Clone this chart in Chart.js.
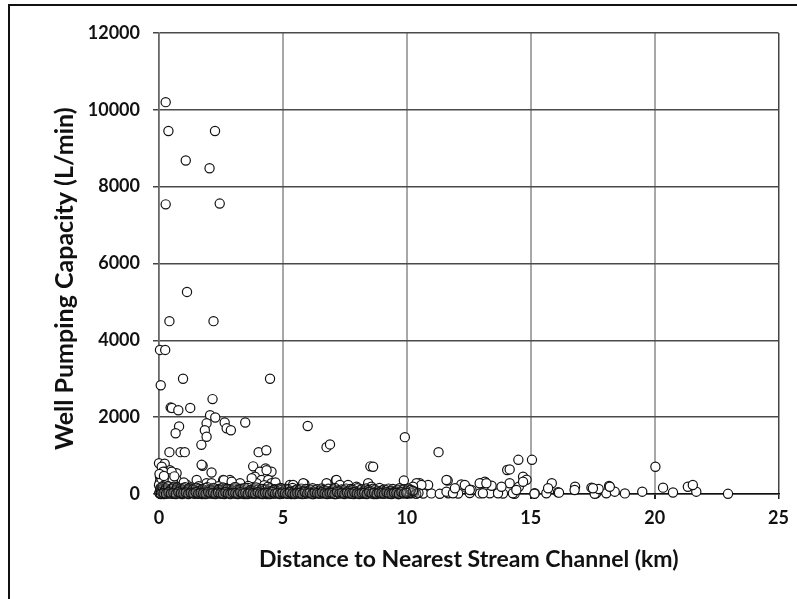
<!DOCTYPE html>
<html>
<head>
<meta charset="utf-8">
<script src="https://cdn.jsdelivr.net/npm/chart.js@4"></script>
<style>
  body { margin: 0; background: #fff; }
  #wrap { position: relative; width: 797px; height: 599px; overflow: hidden; }
  #frame { position: absolute; left: 8px; top: 4px; width: 900px; height: 700px; border: 2px solid #111; pointer-events: none; }
</style>
</head>
<body>
<div id="wrap">
  <canvas id="c" width="797" height="599"></canvas>
  <div id="frame"></div>
</div>
<script>
// wells with large pumping capacity [km, L/min]
var highWells = [
  [0.27,10200],[0.38,9450],[2.26,9450],[1.08,8680],[2.04,8480],[0.27,7540],[2.45,7560],[1.13,5260],
  [0.42,4500],[2.2,4500],[0.04,3750],[0.25,3750],[0.07,2830],[0.97,3000],[4.48,3000],
  [2.16,2470],[0.47,2250],[0.52,2240],[0.78,2180],[1.26,2240],[2.06,2050],[2.27,1990],
  [0.81,1760],[0.67,1580],[1.92,1840],[1.85,1660],[1.92,1490],[1.71,1280],[2.65,1860],[2.73,1710],[2.9,1660],[3.48,1860],
  [6.0,1770],[6.76,1220],[6.9,1290],[9.92,1480],[11.28,1090],[0.42,1090],[0.87,1090],[1.04,1090],[4.02,1090],[4.33,1140],
  [14.5,890],[15.05,890],[20.03,710],[8.53,720],[8.64,710]
];

// mid range wells
var midWells = [
  [0.0,800],[0.23,790],[0.11,710],[1.76,735],[1.72,760],[2.12,560],[3.8,720],[4.3,665],[4.54,580],[0.71,540],
  [0.44,620],[0.24,580],[0.17,580],[0.51,580],[0.04,450],[0.38,410],[0.71,365],[0.58,280],[0.04,320],[0.0,235],
  [4.07,580],[4.34,620],[3.87,450],[4.14,365],[4.41,365],[4.54,280],[3.94,280],[3.74,410],[5.28,235],[5.48,190],
  [1.52,365],[1.92,280],[2.12,280],[2.59,365],[2.86,365],[3.27,280],[2.62,355],[2.93,320],
  [9.88,350],[7.14,360],[6.8,260],[5.87,260],[11.65,350],[10.52,280],[10.86,235],[14.05,625],[14.15,640],[14.69,450],[14.83,370],
  [5.82,280],[6.76,280],[7.16,365],[7.3,235],[7.63,235],[7.97,190],[8.44,280],[8.57,190],[10.39,280],[10.59,235],[11.6,365],[5.41,235],
  [15.85,280],[15.7,150],[16.79,190],[17.45,165],[17.74,130],[18.16,210],[20.34,165],[21.34,190],[21.54,235],
  [14.52,190],[14.69,320],[14.15,280],[13.82,190],[13.42,215],[13.02,280],[13.15,320],[12.2,250],[12.41,165],[11.94,150],[10.25,190],
  [16.77,105],[17.51,150],[18.19,190],[12.34,235],[12.54,105],[12.94,280],[13.21,280],[14.42,105],
  [0.1,400],[0.02,520],[0.3,300],[0.15,200],[0.2,470],[0.06,160],[0.9,200],[1.1,250],[1.3,180],[0.55,350],
  [0.35,200],[1.6,200],[2.4,200],[3.1,180],[3.6,210],[4.9,160],[4.7,300],[4.25,230],[1.0,300],[0.62,460]
];

// sparse low wells past the dense band
var tailWells = [
  [10.12,20],[10.66,10],[10.99,15],[11.33,5],[11.67,20],[12.07,10],[12.54,25],[12.94,15],[13.35,20],[13.88,10],
  [14.35,5],[9.99,60],[12.61,105],[15.16,20],[15.63,20],[16.1,45],[16.14,35],[17.64,20],[18.05,20],[18.39,60],
  [18.8,15],[19.5,60],[20.74,40],[21.68,60],[22.96,5],[17.58,5],[15.15,5],[11.6,60],[11.86,20],[13.07,20],
  [13.68,20],[14.28,20]
];

// dense band near zero
var bandA = [
  [0.03,10],[0.12,40],[0.21,0],[0.3,55],[0.39,20],[0.48,35],[0.57,5],[0.66,60],[0.75,15],[0.84,45],
  [0.93,0],[1.02,30],[1.11,50],[1.2,10],[1.29,25],[1.38,40],[1.47,5],[1.56,55],[1.65,20],[1.74,0],
  [1.83,45],[1.92,15],[2.01,35],[2.1,60],[2.19,5],[2.28,25],[2.37,50],[2.46,10],[2.55,40],[2.64,0],
  [2.73,30],[2.82,55],[2.91,15],[3.0,45],[3.09,5],[3.18,35],[3.27,20],[3.36,60],[3.45,0],[3.54,25],
  [3.63,50],[3.72,10],[3.81,40],[3.9,15],[3.99,55],[4.08,5],[4.17,30],[4.26,45],[4.35,0],[4.44,20],
  [4.53,60],[4.62,10],[4.71,35],[4.8,50],[4.89,5],[4.98,25],[5.07,40],[5.16,15],[5.25,55],[5.34,0],
  [5.43,30],[5.52,45],[5.61,10],[5.7,20],[5.79,60],[5.88,5],[5.97,35],[6.06,50],[6.15,15],[6.24,0],
  [6.33,40],[6.42,25],[6.51,55],[6.6,10],[6.69,30],[6.78,45],[6.87,5],[6.96,20],[7.05,60],[7.14,0],
  [7.23,35],[7.32,15],[7.41,50],[7.5,25],[7.59,40],[7.68,10],[7.77,55],[7.86,0],[7.95,30],[8.04,45],
  [8.13,20],[8.22,5],[8.31,60],[8.4,15],[8.49,35],[8.58,50],[8.67,0],[8.76,25],[8.85,40],[8.94,10],
  [9.03,55],[9.12,20],[9.21,30],[9.3,5],[9.39,45],[9.48,15],[9.57,60],[9.66,0],[9.75,35],[9.84,25],
  [9.93,50],[10.02,10],[10.11,40],[10.2,20],[10.29,55],[10.38,5],[10.47,30]
];

var bandB = [
  [0.07,90],[0.17,140],[0.26,70],[0.35,120],[0.44,100],[0.53,160],[0.62,80],[0.71,130],[0.8,110],[0.89,65],
  [0.98,150],[1.07,95],[1.16,125],[1.25,75],[1.34,145],[1.43,105],[1.52,85],[1.61,135],[1.7,115],[1.79,70],
  [1.88,155],[1.97,90],[2.06,120],[2.15,100],[2.24,140],[2.33,80],[2.42,130],[2.51,65],[2.6,110],[2.69,150],
  [2.78,95],[2.87,125],[2.96,75],[3.05,145],[3.14,105],[3.23,85],[3.32,135],[3.41,60],[3.5,115],[3.59,155],
  [3.68,90],[3.77,70],[3.86,120],[3.95,100],[4.04,140],[4.13,80],[4.22,130],[4.31,110],[4.4,65],[4.49,150],
  [4.58,95],[4.67,125],[4.76,75],[4.85,145],[4.94,105],[5.03,85],[5.12,135],[5.21,115],[5.3,70],[5.39,155],
  [5.48,90],[5.57,120],[5.66,100],[5.75,140],[5.84,80],[5.93,130],[6.02,65],[6.11,110],[6.2,150],[6.29,95],
  [6.38,125],[6.47,75],[6.56,145],[6.65,105],[6.74,85],[6.83,135],[6.92,60],[7.01,115],[7.1,155],[7.19,90],
  [7.28,70],[7.37,120],[7.46,100],[7.55,140],[7.64,80],[7.73,130],[7.82,110],[7.91,65],[8.0,150],[8.09,95],
  [8.18,125],[8.27,75],[8.36,145],[8.45,105],[8.54,85],[8.63,135],[8.72,115],[8.81,70],[8.9,155],[8.99,90],
  [9.08,120],[9.17,100],[9.26,140],[9.35,80],[9.44,130],[9.53,65],[9.62,110],[9.71,150],[9.8,95],[9.89,125],
  [9.98,75],[10.07,145],[10.16,105],[10.25,85]
];

var bandC = [
  [0.01,30],[0.05,120],[0.09,60],[0.14,180],[0.19,20],[0.23,90],[0.28,150],[0.33,40],[0.37,200],[0.42,70],
  [0.46,10],[0.5,130],[0.55,50],[0.6,190],[0.64,25],[0.69,100],[0.73,170],[0.78,35],[0.82,80],[0.87,140],
  [0.91,15],[0.95,110],[1.0,60],[1.05,175],[1.1,30],[1.15,95],[1.22,150],[1.3,45],[1.36,120],[1.42,10],
  [1.5,165],[1.58,70],[1.66,30],[1.76,125],[1.85,50],[1.95,180],[2.03,20],[2.12,90],[2.2,160],[2.3,40],
  [2.4,110],[2.5,15],[2.58,170],[2.67,60],[2.76,130],[2.85,25],[2.95,95],[3.05,180],[3.15,40],[3.25,120],
  [3.35,10],[3.46,160],[3.57,50],[3.68,100],[3.8,20],[3.92,170],[4.03,60],[4.15,130],[4.27,30],[4.4,190],
  [4.52,70],[4.65,110],[4.78,20],[4.92,150]
];

var bandD = [
  [0.08,0],[0.18,25],[0.28,5],[0.38,45],[0.48,15],[0.58,30],[0.68,0],[0.78,50],[0.88,20],[0.98,10],
  [1.08,40],[1.18,0],[1.28,30],[1.38,15],[1.48,45],[1.58,5],[1.68,35],[1.78,20],[1.88,0],[1.98,50],
  [2.08,10],[2.18,30],[2.28,0],[2.38,40],[2.48,20],[2.58,5],[2.68,45],[2.78,15],[2.88,0],[2.98,35],
  [3.08,25],[3.18,0],[3.28,50],[3.38,10],[3.48,30],[3.58,0],[3.68,40],[3.78,20],[3.88,5],[3.98,45],
  [4.08,15],[4.18,0],[4.28,35],[4.38,25],[4.48,0],[4.58,50],[4.68,10],[4.78,30],[4.88,0],[4.98,40],
  [5.08,20],[5.18,5],[5.28,45],[5.38,15],[5.48,0],[5.58,35],[5.68,25],[5.78,0],[5.88,50],[5.98,10],
  [6.08,30],[6.18,0],[6.28,40],[6.38,20],[6.48,5],[6.58,45],[6.68,15],[6.78,0],[6.88,35],[6.98,25],
  [7.08,0],[7.18,50],[7.28,10],[7.38,30],[7.48,0],[7.58,40],[7.68,20],[7.78,5],[7.88,45],[7.98,15],
  [8.08,0],[8.18,35],[8.28,25],[8.38,0],[8.48,50],[8.58,10],[8.68,30],[8.78,0],[8.88,40],[8.98,20],
  [9.08,5],[9.18,45],[9.28,15],[9.38,0],[9.48,35],[9.58,25],[9.68,0],[9.78,50],[9.88,10],[9.98,30]
];

var xTicks = [0, 5, 10, 15, 20, 25];
var yTicks = [0, 2000, 4000, 6000, 8000, 10000, 12000];

function toPts(arr) {
  return arr.map(function(p) { return {x: p[0], y: p[1]}; });
}

var bandPts = toPts(bandA).concat(toPts(bandB), toPts(bandC), toPts(bandD));
var otherPts = toPts(tailWells).concat(toPts(midWells), toPts(highWells));

var tickFont = {family: 'Lato', size: 18, weight: 'bold'};
var titleFont = {family: 'Lato', size: 23, weight: 'bold'};

var ctx = document.getElementById('c');
var myChart = new Chart(ctx, {
  type: 'scatter',
  data: {
    datasets: [{
      label: 'band',
      data: bandPts,
      clip: false,
      pointStyle: 'circle',
      pointRadius: 4.6,
      borderWidth: 1.2,
      borderColor: '#111',
      backgroundColor: 'rgba(255,255,255,0.15)'
    }, {
      label: 'wells',
      data: otherPts,
      clip: false,
      pointStyle: 'circle',
      pointRadius: 4.6,
      borderWidth: 1.2,
      borderColor: '#111',
      backgroundColor: '#ffffff'
    }]
  },
  options: {
    responsive: false,
    animation: false,
    layout: {padding: {top: 33, right: 18, bottom: 0, left: 0}},
    plugins: {
      legend: {display: false},
      tooltip: {enabled: false}
    },
    scales: {
      x: {
        type: 'linear',
        min: 0,
        max: 25,
        afterFit: function(s) { s.height = 105; },
        afterBuildTicks: function(s) { s.ticks = xTicks.map(function(v) { return {value: v}; }); },
        ticks: {font: tickFont, color: '#111', padding: 8, callback: function(v) { return String(v); }},
        grid: {
          color: function(c) { return c.index === xTicks.length - 1 ? '#444' : '#a8a8a8'; },
          lineWidth: function(c) { return c.index === xTicks.length - 1 ? 1.5 : 2; },
          tickLength: 5,
          tickColor: '#222'
        },
        border: {color: '#111', width: 1.5},
        title: {
          display: true,
          text: 'Distance to Nearest Stream Channel (km)',
          font: titleFont,
          color: '#111',
          padding: {top: 0, bottom: 26}
        }
      },
      y: {
        min: 0,
        max: 12000,
        afterFit: function(s) { s.width = 159; },
        afterBuildTicks: function(s) { s.ticks = yTicks.map(function(v) { return {value: v}; }); },
        ticks: {font: tickFont, color: '#111', padding: 13, callback: function(v) { return String(v); }},
        grid: {
          color: '#4a4a4a',
          lineWidth: 1.5,
          tickLength: 6,
          tickColor: '#444'
        },
        border: {color: '#666', width: 1.5},
        title: {
          display: true,
          // trailing spaces nudge the rotated label down a bit, like the original
          text: 'Well Pumping Capacity (L/min)\u00a0\u00a0\u00a0\u00a0\u00a0',
          font: {family: 'Lato', size: 25, weight: 'bold'},
          color: '#111',
          padding: {top: 50, bottom: 0}
        }
      }
    }
  }
});
</script>
</body>
</html>
